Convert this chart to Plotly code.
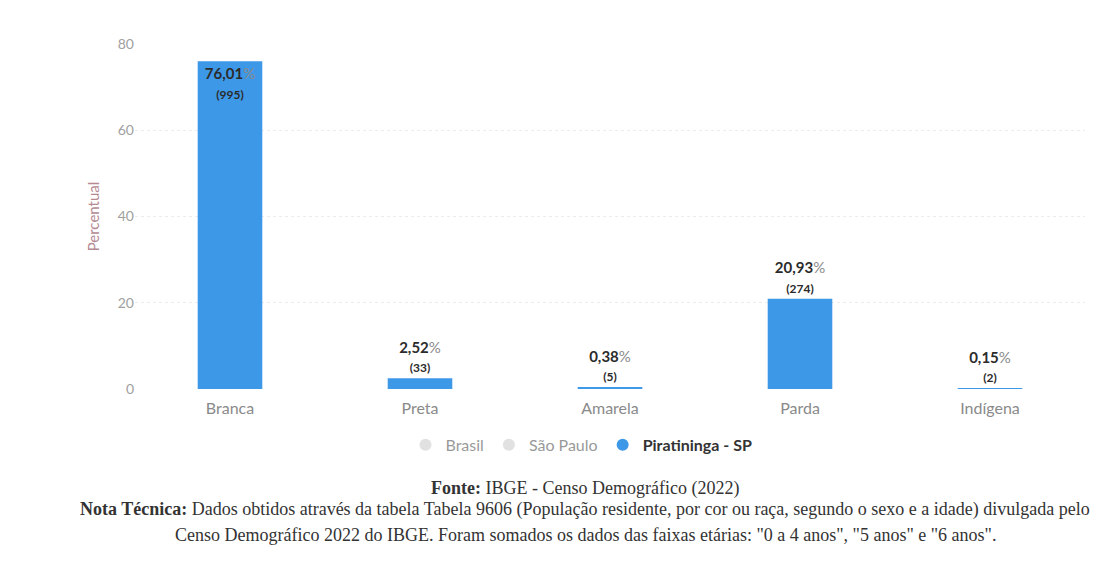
import plotly.graph_objects as go

categorias = ['Branca', 'Preta', 'Amarela', 'Parda', 'Indígena']
percentual = [76.01, 2.52, 0.38, 20.93, 0.15]
populacao = [995, 33, 5, 274, 2]
rotulos_pct = ['76,01', '2,52', '0,38', '20,93', '0,15']
y_ticks = [0, 20, 40, 60, 80]

azul = '#3d98e8'
fonte_graf = 'Lato, Noto Sans, sans-serif'

textos = ["<b>{}</b><span style='color:#8a8a8a'>%</span><br>"
          "<span style='font-size:12px'><b>({})</b></span>".format(p, n)
          for p, n in zip(rotulos_pct, populacao)]
# the tallest bar carries its label inside, like the source chart
posicoes = ['inside' if v > 70 else 'outside' for v in percentual]

fig = go.Figure()

# legend-only series (faded in the original)
for nome in ['Brasil', 'São Paulo']:
    fig.add_trace(go.Scatter(
        x=[None], y=[None], mode='markers', name=nome,
        marker=dict(symbol='circle', size=15, color='#c4c4c4'),
        visible='legendonly'))

fig.add_trace(go.Bar(
    x=categorias, y=percentual,
    marker=dict(color=azul, line=dict(width=0)),
    width=0.34,
    text=textos, textposition=posicoes,
    insidetextanchor='end',
    textfont=dict(family=fonte_graf, size=15, color='#2b2b2b'),
    insidetextfont=dict(family=fonte_graf, size=15, color='#2b2b2b'),
    outsidetextfont=dict(family=fonte_graf, size=15, color='#2b2b2b'),
    cliponaxis=False,
    showlegend=False, name='Piratininga - SP'))

fig.add_trace(go.Scatter(
    x=[None], y=[None], mode='markers', name='<b>Piratininga - SP</b>',
    marker=dict(symbol='circle', size=15, color=azul)))

fonte_nota = 'Liberation Serif, serif'
notas = [
    (-0.287, "<b>Fonte:</b> IBGE - Censo Demográfico (2022)"),
    (-0.35, "<b>Nota Técnica:</b> Dados obtidos através da tabela Tabela 9606 (População residente, "
            "por cor ou raça, segundo o sexo e a idade) divulgada pelo"),
    (-0.422, "Censo Demográfico 2022 do IBGE. Foram somados os dados das faixas etárias: "
             "\"0 a 4 anos\", \"5 anos\" e \"6 anos\"."),
]
for y, txt in notas:
    fig.add_annotation(text=txt, xref='paper', yref='paper', x=0.474, y=y,
                       xanchor='center', yanchor='middle', showarrow=False,
                       font=dict(family=fonte_nota, size=18, color='#333333'))

fig.update_layout(
    width=1105, height=587,
    margin=dict(l=127, r=28, t=36, b=206),
    paper_bgcolor='white', plot_bgcolor='white',
    font=dict(family=fonte_graf),
    legend=dict(orientation='h', x=0.47, y=-0.162, xanchor='center', yanchor='middle',
                font=dict(family=fonte_graf, size=16, color='#333333'),
                itemsizing='constant'),
    xaxis=dict(type='category', categoryorder='array', categoryarray=categorias,
               showgrid=False, showline=False, ticks='', ticklabelstandoff=8,
               tickfont=dict(size=16, color='#8a8a8a')),
    yaxis=dict(range=[0, 80], tickvals=y_ticks, showline=False, zeroline=False,
               gridcolor='#ececec', griddash='dot', gridwidth=1,
               tickfont=dict(size=14, color='#a0a0a0'),
               title=dict(text='Percentual', font=dict(size=15, color='#b58a92'),
                          standoff=14)),
)

fig.write_html('out.html')
